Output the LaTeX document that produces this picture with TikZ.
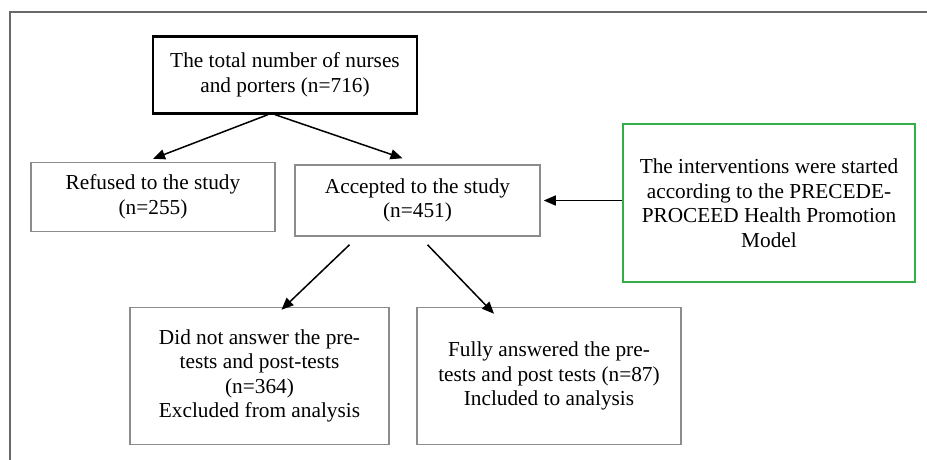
\documentclass[tikz,border=0pt]{standalone}
\usepackage{fontspec}
\setmainfont{Liberation Serif}
\usetikzlibrary{arrows.meta}
\definecolor{boxgray}{RGB}{140,140,140}
\definecolor{framegray}{RGB}{105,105,105}
\definecolor{boxgreen}{RGB}{50,175,70}
\tikzset{
  box/.style={draw=boxgray, line width=1.5pt, align=center, inner sep=0pt,
    font=\fontsize{21.3}{24.5}\selectfont},
  topbox/.style={box, draw=black, line width=2.3pt},
  greenbox/.style={box, draw=boxgreen, line width=1.7pt},
  flow/.style={-{Triangle[length=12pt,width=10pt]}, line width=1.5pt}
}
\begin{document}
\begin{tikzpicture}[x=1pt, y=-1pt]
            \useasboundingbox (0,0) rectangle (927,459);

            % Draw the outer frame
            \draw[framegray, line width=1.5pt] (10,470) -- (10,12) -- (940,12);

            % Place the boxes
            \node[topbox, minimum width=264pt, minimum height=77pt] (total) at (285,75)
                {The total number of nurses\\and porters (n=716)};
            \node[box, minimum width=244pt, minimum height=69pt] (refused) at (153,197)
                {Refused to the study\\(n=255)};
            \node[box, minimum width=245pt, minimum height=71pt] (accepted) at (417.5,200.5)
                {Accepted to the study\\(n=451)};
            \node[greenbox, minimum width=292pt, minimum height=158pt] (model) at (769,203)
                {The interventions were started\\according to the PRECEDE-\\PROCEED Health Promotion\\Model};
            \node[box, minimum width=259pt, minimum height=137pt] (excluded) at (259.5,376)
                {Did not answer the pre-\\tests and post-tests\\(n=364)\\Excluded from analysis};
            \node[box, minimum width=264pt, minimum height=137pt] (included) at (549,376)
                {Fully answered the pre-\\tests and post tests (n=87)\\Included to analysis};

            % Draw the arrows
            \draw[flow] ([xshift=-17pt]total.south) -- ([xshift=0pt,yshift=3pt]refused.north);
            \draw[flow] ([xshift=-10pt]total.south) -- ([xshift=-15pt,yshift=6pt]accepted.north);
            \draw[flow] (model.west |- accepted.east) -- ([xshift=3pt]accepted.east);
            \draw[flow] ([xshift=-68pt,yshift=-8pt]accepted.south) -- ([xshift=22pt,yshift=-3pt]excluded.north);
            \draw[flow] ([xshift=10pt,yshift=-8pt]accepted.south) -- ([xshift=-55pt,yshift=-7pt]included.north);

        \end{tikzpicture}
\end{document}
